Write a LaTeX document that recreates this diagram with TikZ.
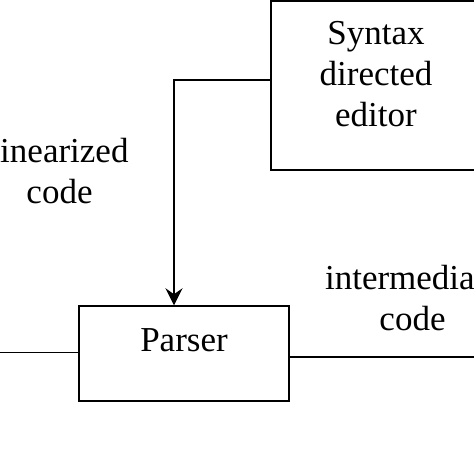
\documentclass[tikz,border=0pt]{standalone}
\usepackage{fontspec}
\setmainfont{Liberation Serif}
\usetikzlibrary{arrows.meta}
\tikzset{
  every node/.style={font=\fontsize{35}{41}\selectfont},
  block/.style={draw,line width=1.5pt,inner sep=0pt},
  flow/.style={line width=1.2pt}
}
\begin{document}
\begin{tikzpicture}[x=1pt,y=1pt]
			\useasboundingbox (0,0) rectangle (474,-474);
			\clip (0,0) rectangle (474,-474);
			\node [block,minimum width=210pt,minimum height=169pt] (editor) at (376,-85.5)
				{\raisebox{8pt}[\height][\depth]{\begin{tabular}{@{}c@{}}Syntax\\directed\\editor\end{tabular}}};
			\node [block,minimum width=210pt,minimum height=95pt] (parser) at (184,-353.5)
				{\raisebox{13pt}[\height][\depth]{Parser}};
			\node [align=center] (lin) at (59.5,-171.5) {linearized\\code};
			\node [align=center] (inter) at (412.5,-298.5) {intermediate\\code};
			\coordinate (bend) at (174,-80);
			\coordinate (inL) at (0,-352.7);
			\coordinate (outR) at (474,-357);
			\draw [flow,-{Stealth[length=17pt,width=17pt,inset=6pt]}] (bend -| editor.west) -- (bend) -- (bend |- parser.north);
			\draw [flow] (inL) -- (inL -| parser.west);
			\draw [flow] (outR -| parser.east) -- (outR);
		\end{tikzpicture}
\end{document}
